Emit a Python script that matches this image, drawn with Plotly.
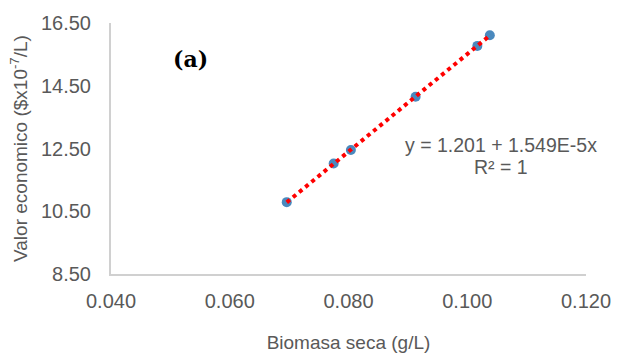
import numpy as np
import plotly.graph_objects as go

# Data
biomasa = [0.0696, 0.0775, 0.0804, 0.0913, 0.1017, 0.1038]
valor = [10.79, 12.02, 12.45, 14.15, 15.77, 16.11]
x_ticks = [0.04, 0.06, 0.08, 0.10, 0.12]
y_ticks = [8.5, 10.5, 12.5, 14.5, 16.5]
eq_line1 = "y = 1.201 + 1.549E-5x"
eq_line2 = "R² = 1"
panel_label = "<b>(a)</b>"

# Linear trendline (least squares fit of the data)
coef = np.polyfit(biomasa, valor, 1)
trend_x = [min(biomasa), max(biomasa)]
trend_y = [coef[0] * v + coef[1] for v in trend_x]

grey = "#595959"
axis_col = "#D0D0D0"

W, H = 623, 362
L, R, T, B = 111, 26, 19, 84
PW, PH = W - L - R, H - T - B


def px(xp):
    return (xp - L) / PW


def py(yp):
    return (H - B - yp) / PH


fig = go.Figure()
fig.add_trace(go.Scatter(
    x=biomasa, y=valor, mode="markers",
    marker=dict(size=10, color="#4A89BE"),
    showlegend=False, hoverinfo="skip",
))
fig.add_trace(go.Scatter(
    x=trend_x, y=trend_y, mode="lines",
    line=dict(color="#FF0000", width=4, dash="dot"),
    showlegend=False, hoverinfo="skip",
))

fig.update_layout(
    width=W, height=H,
    margin=dict(l=L, r=R, t=T, b=B),
    paper_bgcolor="white", plot_bgcolor="white",
    font=dict(family="Liberation Sans, Arial", size=20, color=grey),
    xaxis=dict(
        range=[0.04, 0.12], tickvals=x_ticks, tickformat=".3f",
        showgrid=False, zeroline=False, showline=True,
        linecolor=axis_col, linewidth=2, ticks="",
        ticklabelstandoff=8,
        title=dict(text="Biomasa seca (g/L)", standoff=25,
                   font=dict(size=19, color=grey)),
    ),
    yaxis=dict(
        range=[8.5, 16.5], tickvals=y_ticks, tickformat=".2f",
        showgrid=False, zeroline=False, showline=True,
        linecolor=axis_col, linewidth=2, ticks="",
        ticklabelstandoff=14,
        title=dict(text="Valor economico ($x10<sup>-7</sup>/L)", standoff=8,
                   font=dict(size=19, color=grey)),
    ),
    annotations=[
        dict(text=panel_label, xref="paper", yref="paper",
             x=px(192), y=py(56),
             xanchor="center", yanchor="middle", showarrow=False,
             font=dict(family="DejaVu Serif", size=22, color="black")),
        dict(text=eq_line1, xref="paper", yref="paper",
             x=px(510), y=py(145),
             xanchor="center", yanchor="middle", showarrow=False,
             font=dict(size=19.5, color=grey)),
        dict(text=eq_line2, xref="paper", yref="paper",
             x=px(510), y=py(168),
             xanchor="center", yanchor="middle", showarrow=False,
             font=dict(size=19.5, color=grey)),
    ],
)

fig.write_html("out.html", config={"displayModeBar": False},
               post_script="document.body.style.margin='0';")
